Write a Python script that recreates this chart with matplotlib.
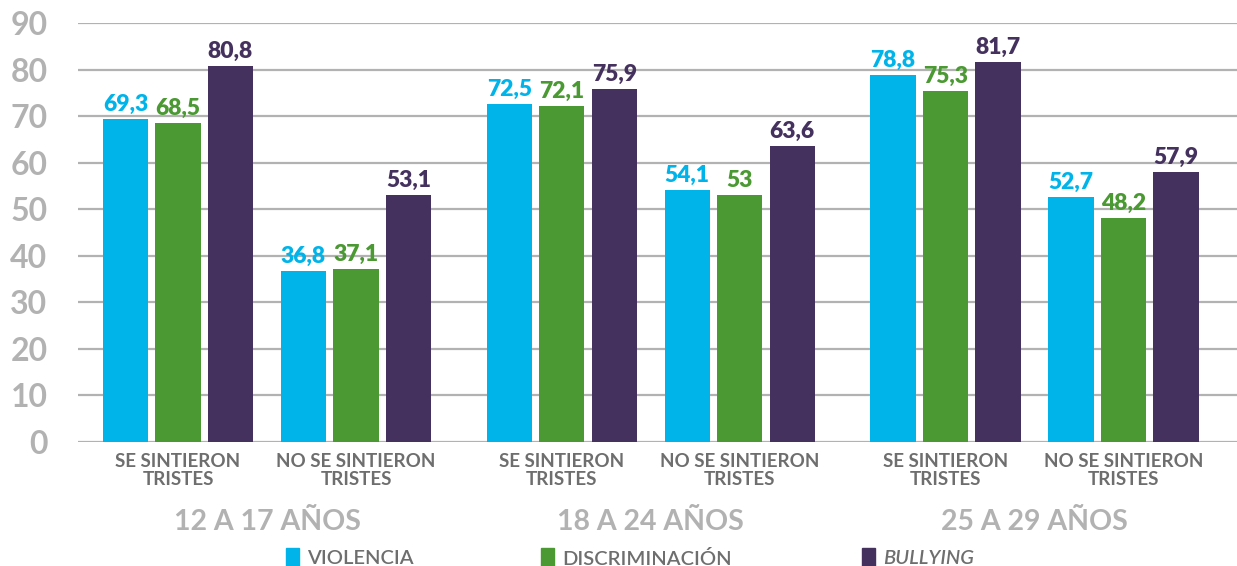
import matplotlib.pyplot as plt
from matplotlib.patches import Rectangle

plt.rcParams['font.family'] = ['Lato', 'DejaVu Sans']

groups = ["12 A 17 AÑOS", "18 A 24 AÑOS", "25 A 29 AÑOS"]
subcats = ["SE SINTIERON\nTRISTES", "NO SE SINTIERON\nTRISTES"]
series = ["VIOLENCIA", "DISCRIMINACIÓN", "BULLYING"]

# values per cluster: (12-17 si, 12-17 no, 18-24 si, 18-24 no, 25-29 si, 25-29 no)
violencia = [69.3, 36.8, 72.5, 54.1, 78.8, 52.7]
discriminacion = [68.5, 37.1, 72.1, 53, 75.3, 48.2]
bullying = [80.8, 53.1, 75.9, 63.6, 81.7, 57.9]

colors = ["#00b4ea", "#4b9933", "#45315e"]
grey_light = "#b2b2b2"
grey_dark = "#6e6e6e"

fig = plt.figure(figsize=(12.37, 5.66), dpi=100)
ax = fig.add_axes([78 / 1237, 1 - 442 / 566, 1 - 78 / 1237, (442 - 23) / 566])

cluster_gap = 3.39
group_extra = 0.53
width = 0.86

centers = []
for i in range(6):
    centers.append(i * cluster_gap + (i // 2) * group_extra)

for s, vals in enumerate([violencia, discriminacion, bullying]):
    xs = [c + (s - 1) for c in centers]
    ax.bar(xs, vals, width, color=colors[s], zorder=3)
    for x, v in zip(xs, vals):
        txt = f"{v:g}".replace(".", ",")
        ax.annotate(txt, (x, v), xytext=(0, 3), textcoords="offset points",
                    ha="center", va="bottom", fontsize=16.5, fontweight="heavy",
                    color=colors[s], zorder=4)

ax.set_xlim((78 - 178) / 52.5, (1237 - 178) / 52.5)
ax.set_ylim(0, 90)
ax.set_yticks(range(0, 91, 10))
ax.tick_params(axis="y", length=0, pad=22, labelsize=23, labelcolor=grey_light)
for lab in ax.get_yticklabels():
    lab.set_fontweight("bold")
ax.set_xticks([])
ax.grid(axis="y", color=grey_light, linewidth=1.6, zorder=0)
for sp in ax.spines.values():
    sp.set_visible(False)

trans = ax.get_xaxis_transform()
for i, c in enumerate(centers):
    ax.text(c, -0.026, subcats[i % 2], transform=trans, ha="center", va="top",
            fontsize=13.5, color=grey_dark, fontweight="bold", linespacing=1.1)
for g in range(3):
    gc = (centers[2 * g] + centers[2 * g + 1]) / 2
    ax.text(gc, -0.19, groups[g], transform=trans, ha="center", va="center",
            fontsize=20.5, color=grey_light, fontweight="bold")

# legend
leg_x = [286, 541, 862]
for s in range(3):
    fig.patches.append(Rectangle((leg_x[s] / 1237, 0), 13 / 1237, 18 / 566,
                                 transform=fig.transFigure, color=colors[s]))
    fig.text((leg_x[s] + 21) / 1237, 1 - 559 / 566, series[s], ha="left", va="center",
             fontsize=14.5, color=grey_dark, fontweight="semibold",
             style="italic" if s == 2 else "normal")

fig.savefig("out.png", dpi=100)
